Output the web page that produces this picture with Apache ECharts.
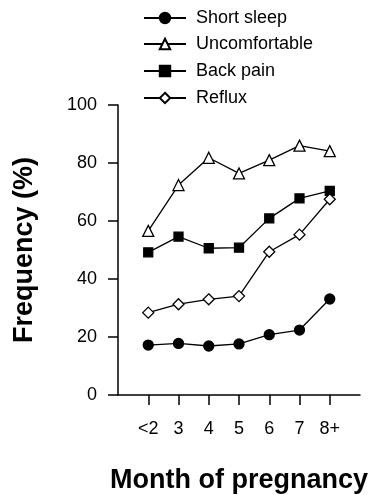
<!DOCTYPE html>
<html>
<head>
<meta charset="utf-8">
<script src="https://cdn.jsdelivr.net/npm/echarts@6/dist/echarts.min.js"></script>
<style>html,body{margin:0;padding:0;background:#fff}#c{width:368px;height:495px}</style>
</head>
<body>
<div id="c"></div>
<script>
const months = ['<2', '3', '4', '5', '6', '7', '8+'];
const shortSleep = [17.2, 17.8, 16.9, 17.6, 20.8, 22.4, 33.1];
const uncomfortable = [56.6, 72.4, 81.8, 76.4, 81.0, 86.0, 84.1];
const backPain = [49.2, 54.6, 50.6, 50.8, 60.9, 67.8, 70.4];
const reflux = [28.4, 31.3, 33.0, 34.1, 49.4, 55.3, 67.5];
const yTicks = [0, 20, 40, 60, 80, 100];

const FONT = '"Liberation Sans", Arial, sans-serif';
const chart = echarts.init(document.getElementById('c'), null, {renderer: 'canvas'});
const idx = months.map((m, i) => i);
const toPairs = arr => arr.map((v, i) => [i, v]);

function mkSeries(name, data, symbol, size, fill) {
  return {
    name: name, type: 'line', data: toPairs(data),
    symbol: symbol, symbolSize: size, showAllSymbol: true,
    lineStyle: {color: '#000', width: 1.3},
    itemStyle: {color: fill, borderColor: '#000', borderWidth: 1.3},
    emphasis: {disabled: true},
    animation: false, z: 3
  };
}
const series = [
  mkSeries('Short sleep', shortSleep, 'circle', 10, '#000'),
  mkSeries('Uncomfortable', uncomfortable, 'triangle', 11, '#fff'),
  mkSeries('Back pain', backPain, 'rect', 9, '#000'),
  mkSeries('Reflux', reflux, 'diamond', 11, '#fff')
];
const legendNames = ['Short sleep', 'Uncomfortable', 'Back pain', 'Reflux'];
const legendCenters = [17, 43, 70, 97];
const legends = legendNames.map((n, i) => ({
  data: [n], orient: 'vertical', left: 138, top: legendCenters[i] - 13,
  itemWidth: 42, itemHeight: 13, selectedMode: false,
  textStyle: {fontFamily: FONT, fontSize: 18, color: '#000', padding: [0, 0, 0, 5]}
}));

chart.setOption({
  animation: false,
  backgroundColor: '#fff',
  legend: legends,
  grid: {left: 118, right: 8, top: 105, bottom: 100, containLabel: false, outerBoundsMode: 'none'},
  xAxis: {
    type: 'value', min: -1, max: 7, interval: 1,
    name: 'Month of pregnancy', nameLocation: 'middle', nameGap: 72,
    nameTextStyle: {fontFamily: FONT, fontSize: 27, fontWeight: 'bold', color: '#000'},
    axisLine: {onZero: false, lineStyle: {color: '#000', width: 1.5}},
    axisTick: {show: true, length: 10, lineStyle: {color: '#000', width: 1.5}, customValues: idx},
    axisLabel: {customValues: idx, formatter: v => months[v] !== undefined ? months[v] : '', fontFamily: FONT, fontSize: 18, color: '#000', margin: 25},
    splitLine: {show: false}
  },
  yAxis: {
    type: 'value', min: 0, max: 100, interval: 20,
    name: 'Frequency (%)', nameLocation: 'middle', nameRotate: 90, nameGap: 80,
    nameTextStyle: {fontFamily: FONT, fontSize: 27, fontWeight: 'bold', color: '#000'},
    axisLine: {show: true, onZero: false, lineStyle: {color: '#000', width: 1.5}},
    axisTick: {show: true, length: 10, lineStyle: {color: '#000', width: 1.5}, customValues: yTicks},
    axisLabel: {customValues: yTicks, fontFamily: FONT, fontSize: 18, color: '#000', margin: 21},
    splitLine: {show: false}
  },
  series: series
});
</script>
</body>
</html>
